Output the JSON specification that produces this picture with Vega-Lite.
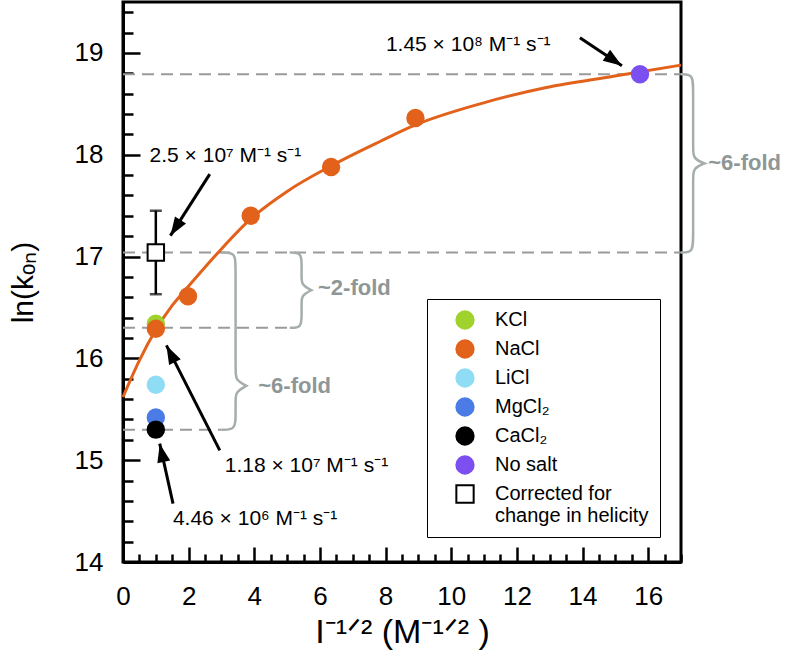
{
  "$schema": "https://vega.github.io/schema/vega-lite/v6.json",
  "width": 558,
  "height": 560,
  "autosize": {"type": "none"},
  "padding": {"left": 123, "top": 2, "right": 115, "bottom": 98},
  "background": "white",
  "config": {
    "view": {"stroke": "black", "strokeWidth": 3},
    "font": "Liberation Sans",
    "axis": {
      "grid": false,
      "domainColor": "black",
      "domainWidth": 3,
      "tickColor": "black",
      "tickWidth": 2.5,
      "labelFont": "Liberation Sans",
      "labelFontSize": 26,
      "labelColor": "black",
      "labelOverlap": false,
      "titleFont": "Liberation Sans",
      "titleFontWeight": "normal",
      "titleColor": "black"
    }
  },
  "datasets": {
    "pts": [
      {"salt": "KCl", "x": 1, "y": 16.34},
      {"salt": "NaCl", "x": 1, "y": 16.29},
      {"salt": "NaCl", "x": 1.98, "y": 16.61},
      {"salt": "NaCl", "x": 3.89, "y": 17.40},
      {"salt": "NaCl", "x": 6.34, "y": 17.88},
      {"salt": "NaCl", "x": 8.91, "y": 18.36},
      {"salt": "LiCl", "x": 1, "y": 15.74},
      {"salt": "MgCl₂", "x": 1, "y": 15.42},
      {"salt": "CaCl₂", "x": 1, "y": 15.30},
      {"salt": "No salt", "x": 15.75, "y": 18.79},
      {"salt": "Corrected", "x": 1, "y": 17.04, "lo": 16.63, "hi": 17.45}
    ],
    "curve": [
      {"x": 0, "y": 15.62},
      {"x": 0.5, "y": 15.98},
      {"x": 1, "y": 16.28},
      {"x": 1.5, "y": 16.52},
      {"x": 2, "y": 16.71},
      {"x": 2.9, "y": 17.04},
      {"x": 3.89, "y": 17.37},
      {"x": 5, "y": 17.64},
      {"x": 6.34, "y": 17.89},
      {"x": 7.83, "y": 18.13},
      {"x": 8.89, "y": 18.29},
      {"x": 10.88, "y": 18.50},
      {"x": 12.9, "y": 18.66},
      {"x": 14.94, "y": 18.77},
      {"x": 17, "y": 18.88}
    ],
    "dash": [
      {"y": 18.79, "xa": 0, "xb": 17},
      {"y": 17.04, "xa": 0, "xb": 17},
      {"y": 16.30, "xa": 0, "xb": 5.08},
      {"y": 15.30, "xa": 0, "xb": 3.0}
    ],
    "brace": [
      {"b": "R", "o": 1, "x": 17.0, "y": 18.79},
      {"b": "R", "o": 2, "x": 17.37, "y": 18.79},
      {"b": "R", "o": 3, "x": 17.37, "y": 18.64},
      {"b": "R", "o": 4, "x": 17.37, "y": 18.06},
      {"b": "R", "o": 5, "x": 17.37, "y": 17.96},
      {"b": "R", "o": 6, "x": 17.72, "y": 17.915},
      {"b": "R", "o": 7, "x": 17.72, "y": 17.915},
      {"b": "R", "o": 8, "x": 17.72, "y": 17.915},
      {"b": "R", "o": 9, "x": 17.37, "y": 17.87},
      {"b": "R", "o": 10, "x": 17.37, "y": 17.77},
      {"b": "R", "o": 11, "x": 17.37, "y": 17.19},
      {"b": "R", "o": 12, "x": 17.37, "y": 17.04},
      {"b": "R", "o": 13, "x": 17.0, "y": 17.04},
      {"b": "B2", "o": 1, "x": 5.08, "y": 17.04},
      {"b": "B2", "o": 2, "x": 5.44, "y": 17.04},
      {"b": "B2", "o": 3, "x": 5.44, "y": 16.92},
      {"b": "B2", "o": 4, "x": 5.44, "y": 16.80},
      {"b": "B2", "o": 5, "x": 5.44, "y": 16.72},
      {"b": "B2", "o": 6, "x": 5.74, "y": 16.67},
      {"b": "B2", "o": 7, "x": 5.74, "y": 16.67},
      {"b": "B2", "o": 8, "x": 5.74, "y": 16.67},
      {"b": "B2", "o": 9, "x": 5.44, "y": 16.62},
      {"b": "B2", "o": 10, "x": 5.44, "y": 16.54},
      {"b": "B2", "o": 11, "x": 5.44, "y": 16.42},
      {"b": "B2", "o": 12, "x": 5.44, "y": 16.30},
      {"b": "B2", "o": 13, "x": 5.08, "y": 16.30},
      {"b": "B6", "o": 1, "x": 3.0, "y": 17.04},
      {"b": "B6", "o": 2, "x": 3.43, "y": 17.04},
      {"b": "B6", "o": 3, "x": 3.43, "y": 16.90},
      {"b": "B6", "o": 4, "x": 3.43, "y": 15.87},
      {"b": "B6", "o": 5, "x": 3.43, "y": 15.79},
      {"b": "B6", "o": 6, "x": 3.76, "y": 15.73},
      {"b": "B6", "o": 7, "x": 3.76, "y": 15.73},
      {"b": "B6", "o": 8, "x": 3.76, "y": 15.73},
      {"b": "B6", "o": 9, "x": 3.43, "y": 15.67},
      {"b": "B6", "o": 10, "x": 3.43, "y": 15.59},
      {"b": "B6", "o": 11, "x": 3.43, "y": 15.44},
      {"b": "B6", "o": 12, "x": 3.43, "y": 15.30},
      {"b": "B6", "o": 13, "x": 3.0, "y": 15.30}
    ],
    "arrows": [
      {"id": 1, "xs": 13.92, "ys": 19.15, "xe": 15.20, "ye": 18.874},
      {"id": 2, "xs": 2.643, "ys": 17.81, "xe": 1.445, "ye": 17.205},
      {"id": 3, "xs": 2.948, "ys": 15.096, "xe": 1.323, "ye": 16.127},
      {"id": 4, "xs": 1.524, "ys": 14.573, "xe": 1.119, "ye": 15.162}
    ],
    "notes": [
      {"t": "1.45 × 10⁸ M⁻¹ s⁻¹", "x": 8.01, "y": 19.02},
      {"t": "2.5 × 10⁷ M⁻¹ s⁻¹", "x": 0.81, "y": 17.93},
      {"t": "1.18 × 10⁷ M⁻¹ s⁻¹", "x": 3.10, "y": 14.88},
      {"t": "4.46 × 10⁶ M⁻¹ s⁻¹", "x": 1.52, "y": 14.36}
    ],
    "folds": [
      {"t": "~2-fold", "x": 5.94, "y": 16.69},
      {"t": "~6-fold", "x": 4.12, "y": 15.73},
      {"t": "~6-fold", "x": 17.83, "y": 17.915}
    ]
  },
  "layer": [
    {
      "data": {"name": "dash"},
      "mark": {"type": "rule", "color": "#9a9a9a", "strokeWidth": 2, "strokeDash": [12, 7]},
      "encoding": {
        "x": {
          "field": "xa", "type": "quantitative",
          "scale": {"domain": [0, 17], "nice": false, "zero": false},
          "axis": {
            "values": [0,0.5,1,1.5,2,2.5,3,3.5,4,4.5,5,5.5,6,6.5,7,7.5,8,8.5,9,9.5,10,10.5,11,11.5,12,12.5,13,13.5,14,14.5,15,15.5,16,16.5,17],
            "tickCount": 200,
            "tickSize": -15,
            "tickDash": {"condition": {"test": "datum.value % 2 === 0", "value": [20, 0]}, "value": [8, 40]},
            "labelExpr": "datum.value % 2 === 0 && datum.value < 17 ? format(datum.value, 'd') : ''",
            "labelOverlap": false,
            "labelPadding": 36,
            "labelFlush": false,
            "title": "I⁻¹ᐟ² (M⁻¹ᐟ² )",
            "titleFontSize": 34,
            "titlePadding": 6
          }
        },
        "x2": {"field": "xb"},
        "y": {
          "field": "y", "type": "quantitative",
          "scale": {"domain": [14, 19.5], "nice": false, "zero": false},
          "axis": {
            "values": [14,14.2,14.4,14.6,14.8,15,15.2,15.4,15.6,15.8,16,16.2,16.4,16.6,16.8,17,17.2,17.4,17.6,17.8,18,18.2,18.4,18.6,18.8,19,19.2,19.4],
            "tickCount": 200,
            "tickSize": -17,
            "tickDash": {"condition": {"test": "datum.value % 1 === 0", "value": [20, 0]}, "value": [10, 40]},
            "labelExpr": "datum.value % 1 === 0 ? format(datum.value, 'd') : ''",
            "labelOverlap": false,
            "labelPadding": 37,
            "labelFlush": false,
            "title": "ln(kₒₙ)",
            "titleFontSize": 30,
            "titlePadding": 36
          }
        }
      }
    },
    {
      "data": {"name": "brace"},
      "mark": {"type": "line", "color": "#a6adad", "strokeWidth": 2.5, "interpolate": "basis", "clip": false},
      "encoding": {
        "x": {"field": "x", "type": "quantitative"},
        "y": {"field": "y", "type": "quantitative"},
        "detail": {"field": "b"},
        "order": {"field": "o", "type": "quantitative"}
      }
    },
    {
      "data": {"name": "curve"},
      "mark": {"type": "line", "color": "#e2621b", "strokeWidth": 3, "interpolate": "monotone"},
      "encoding": {
        "x": {"field": "x", "type": "quantitative"},
        "y": {"field": "y", "type": "quantitative"}
      }
    },
    {
      "data": {"name": "pts"},
      "transform": [{"filter": "datum.salt === 'Corrected'"}],
      "mark": {"type": "rule", "color": "black", "strokeWidth": 2.5},
      "encoding": {
        "x": {"field": "x", "type": "quantitative"},
        "y": {"field": "lo", "type": "quantitative"},
        "y2": {"field": "hi"}
      }
    },
    {
      "data": {"name": "pts"},
      "transform": [{"filter": "datum.salt === 'Corrected'"}],
      "mark": {"type": "tick", "color": "black", "orient": "horizontal", "size": 12, "thickness": 2.5},
      "encoding": {
        "x": {"field": "x", "type": "quantitative"},
        "y": {"field": "lo", "type": "quantitative"}
      }
    },
    {
      "data": {"name": "pts"},
      "transform": [{"filter": "datum.salt === 'Corrected'"}],
      "mark": {"type": "tick", "color": "black", "orient": "horizontal", "size": 12, "thickness": 2.5},
      "encoding": {
        "x": {"field": "x", "type": "quantitative"},
        "y": {"field": "hi", "type": "quantitative"}
      }
    },
    {
      "data": {"name": "pts"},
      "mark": {"type": "point", "filled": true, "opacity": 1, "strokeWidth": 2, "size": 270},
      "encoding": {
        "x": {"field": "x", "type": "quantitative"},
        "y": {"field": "y", "type": "quantitative"},
        "fill": {
          "field": "salt", "type": "nominal",
          "scale": {
            "domain": ["KCl", "NaCl", "LiCl", "MgCl₂", "CaCl₂", "No salt", "Corrected"],
            "range": ["#9fd22c", "#e2621b", "#8fdcf5", "#4b7be5", "#000000", "#7b4ff0", "#ffffff"]
          },
          "legend": {
            "orient": "none",
            "legendX": 304,
            "legendY": 297,
            "title": null,
            "strokeColor": "black",
            "fillColor": "white",
            "padding": 11,
            "labelFont": "Liberation Sans",
            "labelFontSize": 20,
            "labelLimit": 300,
            "symbolSize": 300,
            "symbolStrokeWidth": 2,
            "rowPadding": 3,
            "labelOffset": 20,
            "symbolOffset": 17,
            "labelExpr": "datum.value === 'Corrected' ? ['Corrected for', 'change in helicity'] : datum.label",
            "encode": {
              "labels": {
                "fill": {
                  "condition": [
                    {"test": "datum.value === 'KCl'", "value": "#8cc63f"},
                    {"test": "datum.value === 'NaCl'", "value": "#d95f1c"},
                    {"test": "datum.value === 'LiCl'", "value": "#8ad8f2"},
                    {"test": "datum.value === 'MgCl₂'", "value": "#4a6fe0"},
                    {"test": "datum.value === 'No salt'", "value": "#6a40e6"}
                  ],
                  "value": "#000000"
                }
              }
            }
          }
        },
        "stroke": {
          "field": "salt", "type": "nominal",
          "scale": {
            "domain": ["KCl", "NaCl", "LiCl", "MgCl₂", "CaCl₂", "No salt", "Corrected"],
            "range": ["#9fd22c", "#e2621b", "#8fdcf5", "#4b7be5", "#000000", "#7b4ff0", "#000000"]
          }
        },
        "shape": {
          "field": "salt", "type": "nominal",
          "scale": {
            "domain": ["KCl", "NaCl", "LiCl", "MgCl₂", "CaCl₂", "No salt", "Corrected"],
            "range": ["circle", "circle", "circle", "circle", "circle", "circle", "square"]
          }
        }
      }
    },
    {
      "data": {"name": "arrows"},
      "mark": {"type": "rule", "color": "black", "strokeWidth": 3},
      "encoding": {
        "x": {"field": "xs", "type": "quantitative"},
        "y": {"field": "ys", "type": "quantitative"},
        "x2": {"field": "xe"},
        "y2": {"field": "ye"}
      }
    },
    {
      "data": {"name": "arrows"},
      "transform": [{"filter": "datum.id === 1"}],
      "mark": {"type": "point", "shape": "M0,0L0.35,1L-0.35,1Z", "filled": true, "color": "black", "opacity": 1, "size": 1400, "angle": 124},
      "encoding": {"x": {"field": "xe", "type": "quantitative"}, "y": {"field": "ye", "type": "quantitative"}}
    },
    {
      "data": {"name": "arrows"},
      "transform": [{"filter": "datum.id === 2"}],
      "mark": {"type": "point", "shape": "M0,0L0.35,1L-0.35,1Z", "filled": true, "color": "black", "opacity": 1, "size": 1400, "angle": 212.5},
      "encoding": {"x": {"field": "xe", "type": "quantitative"}, "y": {"field": "ye", "type": "quantitative"}}
    },
    {
      "data": {"name": "arrows"},
      "transform": [{"filter": "datum.id === 3"}],
      "mark": {"type": "point", "shape": "M0,0L0.35,1L-0.35,1Z", "filled": true, "color": "black", "opacity": 1, "size": 1400, "angle": 333},
      "encoding": {"x": {"field": "xe", "type": "quantitative"}, "y": {"field": "ye", "type": "quantitative"}}
    },
    {
      "data": {"name": "arrows"},
      "transform": [{"filter": "datum.id === 4"}],
      "mark": {"type": "point", "shape": "M0,0L0.35,1L-0.35,1Z", "filled": true, "color": "black", "opacity": 1, "size": 1400, "angle": 347.5},
      "encoding": {"x": {"field": "xe", "type": "quantitative"}, "y": {"field": "ye", "type": "quantitative"}}
    },
    {
      "data": {"name": "notes"},
      "mark": {"type": "text", "align": "left", "baseline": "alphabetic", "font": "Liberation Sans", "fontSize": 21, "color": "black"},
      "encoding": {
        "x": {"field": "x", "type": "quantitative"},
        "y": {"field": "y", "type": "quantitative"},
        "text": {"field": "t"}
      }
    },
    {
      "data": {"name": "folds"},
      "mark": {"type": "text", "align": "left", "baseline": "middle", "font": "Liberation Sans", "fontSize": 22, "fontWeight": "bold", "color": "#8e9696", "clip": false},
      "encoding": {
        "x": {"field": "x", "type": "quantitative"},
        "y": {"field": "y", "type": "quantitative"},
        "text": {"field": "t"}
      }
    }
  ]
}
